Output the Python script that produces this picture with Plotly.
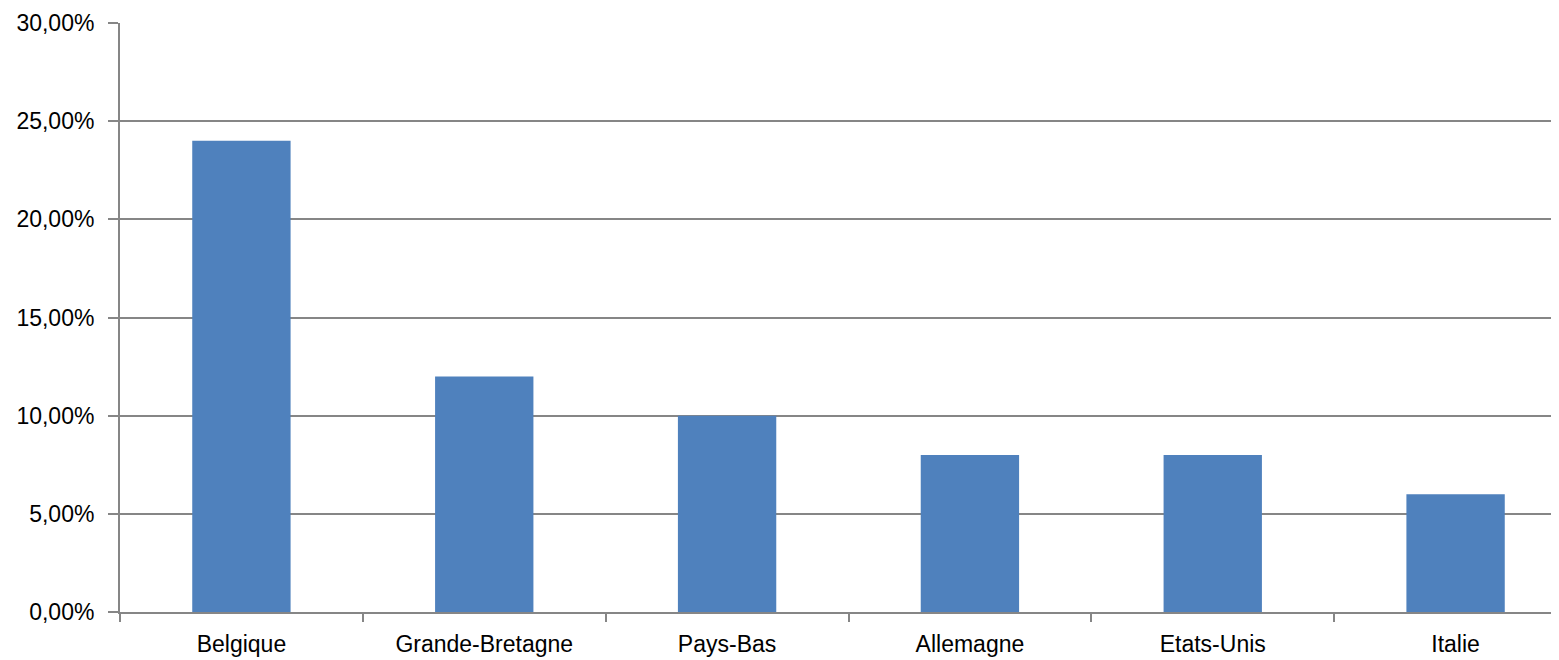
import plotly.graph_objects as go

categories = ["Belgique", "Grande-Bretagne", "Pays-Bas", "Allemagne", "Etats-Unis", "Italie"]
values = [0.24, 0.12, 0.10, 0.08, 0.08, 0.06]

fig = go.Figure(go.Bar(x=categories, y=values, marker=dict(color="#4F81BD", line=dict(width=0)), width=0.405))

font = dict(family="Liberation Sans", size=23, color="#000000")
fig.update_layout(
    width=1580, height=660,
    margin=dict(l=112, r=11, t=15, b=56, autoexpand=False),
    plot_bgcolor="white", paper_bgcolor="white",
    separators=",.",
    showlegend=False,
    font=font,
)
fig.update_xaxes(
    type="category", tickson="boundaries", ticks="outside", ticklen=8, tickcolor="#868686", tickwidth=2,
    showline=True, linecolor="#868686", linewidth=2, showgrid=False, tickfont=font,
    ticklabelstandoff=10, automargin=False,
)
fig.update_yaxes(
    range=[0, 0.30], dtick=0.05, tickformat=".2%", ticks="outside", ticklen=10, tickcolor="#868686", tickwidth=2,
    showline=True, linecolor="#868686", linewidth=2, showgrid=True, gridcolor="#868686", gridwidth=2,
    zeroline=False, tickfont=font, ticklabelstandoff=9, automargin=False,
)
fig.write_html("out.html")
